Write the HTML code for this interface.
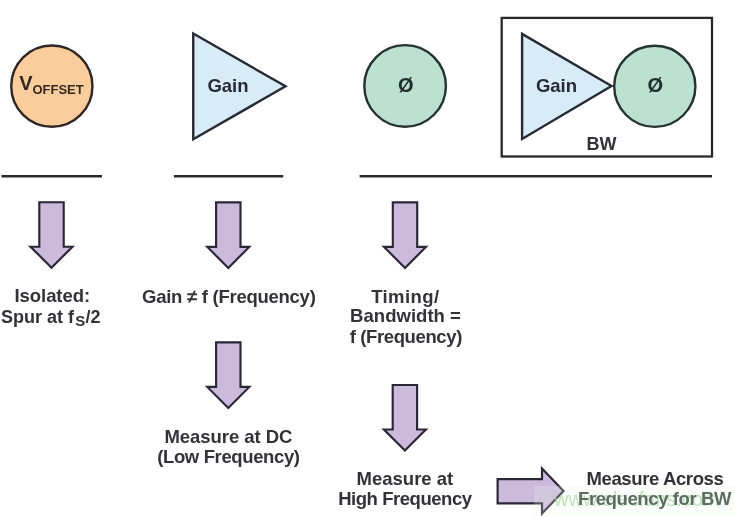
<!DOCTYPE html>
<html><head><meta charset="utf-8">
<style>
html,body{margin:0;padding:0;background:#fff;}
svg{display:block;will-change:transform;}
text{font-family:"Liberation Sans",sans-serif;font-weight:bold;fill:#323238;font-size:18px;}
</style></head><body>
<svg width="735" height="516" viewBox="0 0 735 516">
<!-- top row -->
<circle cx="51.85" cy="86.15" r="40.6" fill="#fccd9c" stroke="#2e2724" stroke-width="2.4"/>
<text x="19.2" y="89.8" style="font-size:20px;fill:#33291f">V</text><text x="32.4" y="94" style="font-size:13px;fill:#33291f">OFFSET</text>
<path d="M193.25,33.5 L193.25,139.3 L285.5,86.3 Z" fill="#d7ebf8" stroke="#262a32" stroke-width="2.4" stroke-linejoin="miter" stroke-miterlimit="10"/>
<text x="228" y="91.6" text-anchor="middle" style="fill:#252a33;font-size:18.5px">Gain</text>
<circle cx="405.1" cy="85.9" r="40.8" fill="#bce1d2" stroke="#243230" stroke-width="2.4"/>
<text x="405.8" y="91.8" text-anchor="middle" style="fill:#1f2f2c;font-size:20px">Ø</text>
<rect x="501.7" y="17.9" width="210.3" height="138.6" fill="none" stroke="#2a2a2e" stroke-width="2.3"/>
<path d="M522.1,33.9 L522.1,139 L611.5,86 Z" fill="#d7ebf8" stroke="#262a32" stroke-width="2.4" stroke-linejoin="miter" stroke-miterlimit="10"/>
<circle cx="654.8" cy="86.3" r="40.6" fill="#bce1d2" stroke="#243230" stroke-width="2.4"/>
<text x="556.5" y="91.6" text-anchor="middle" style="fill:#252a33;font-size:18.5px">Gain</text>
<text x="655.4" y="91.8" text-anchor="middle" style="fill:#1f2f2c;font-size:20px">Ø</text>
<text x="601.5" y="150.4" text-anchor="middle">BW</text>
<!-- lines -->
<path d="M1.5,176.3 H102 M173.9,176.3 H283.3 M359.6,176.3 H712" stroke="#2a2a2e" stroke-width="2.5"/>
<!-- arrows -->
<path transform="translate(51.5,202.2)" d="M-12.2,0 H12.2 V44.5 H21 L0,65.5 L-21,44.5 H-12.2 Z" fill="#ccbadd" stroke="#2b2636" stroke-width="2.15" stroke-linejoin="miter" stroke-miterlimit="10"/>
<path transform="translate(228.3,202.4)" d="M-12.2,0 H12.2 V44.5 H21 L0,65.5 L-21,44.5 H-12.2 Z" fill="#ccbadd" stroke="#2b2636" stroke-width="2.15" stroke-linejoin="miter" stroke-miterlimit="10"/>
<path transform="translate(405,202.4)" d="M-12.2,0 H12.2 V44.5 H21 L0,65.5 L-21,44.5 H-12.2 Z" fill="#ccbadd" stroke="#2b2636" stroke-width="2.15" stroke-linejoin="miter" stroke-miterlimit="10"/>
<path transform="translate(228.3,342.4)" d="M-12.2,0 H12.2 V44.5 H21 L0,65.5 L-21,44.5 H-12.2 Z" fill="#ccbadd" stroke="#2b2636" stroke-width="2.15" stroke-linejoin="miter" stroke-miterlimit="10"/>
<path transform="translate(404.9,385)" d="M-12.2,0 H12.2 V44.5 H21 L0,65.5 L-21,44.5 H-12.2 Z" fill="#ccbadd" stroke="#2b2636" stroke-width="2.15" stroke-linejoin="miter" stroke-miterlimit="10"/>
<path d="M497.6,479.1 H542 V468.5 L563.5,491.1 L542,513.5 V503.4 H497.6 Z" fill="#ccbadd" stroke="#2b2636" stroke-width="2.15" stroke-miterlimit="10"/>
<!-- texts -->
<text x="14.5" y="302.4" style="font-size:18.5px;letter-spacing:-0.06px">Isolated:</text>
<text x="1" y="322.8">Spur at f<tspan style="font-size:15px" dx="1.2" dy="3.2">S</tspan><tspan dx="0.3" dy="-3.2">/2</tspan></text>
<text x="142" y="302.6" style="font-size:18.5px;letter-spacing:-0.26px">Gain ≠ f (Frequency)</text>
<text x="371.2" y="302.6" style="font-size:18.5px;letter-spacing:0.4px">Timing/</text>
<text x="350.1" y="322.4" style="font-size:18.5px;letter-spacing:0.03px">Bandwidth =</text>
<text x="349.7" y="342.8" style="font-size:18.5px;letter-spacing:-0.38px">f (Frequency)</text>
<text x="164.5" y="442.7" style="font-size:18.5px;letter-spacing:-0.06px">Measure at DC</text>
<text x="157.2" y="462.8" style="font-size:18.5px;letter-spacing:-0.37px">(Low Frequency)</text>
<text x="356.6" y="484.9" style="font-size:18.5px;letter-spacing:0.0px">Measure at</text>
<text x="338.2" y="505" style="font-size:18.5px;letter-spacing:-0.46px">High Frequency</text>
<text x="586.5" y="484.7" style="font-size:18.5px;letter-spacing:-0.38px">Measure Across</text>
<text x="554" y="506" style="font-weight:normal;font-size:20px;fill:#8fd08a;fill-opacity:0.7">www.elecfans.com</text>
<text x="578" y="504.8" style="font-size:18.5px;letter-spacing:-0.39px;fill:#36443a">Frequency for BW</text>
<!-- watermark -->
<rect x="534" y="486" width="201" height="30" fill="#e6f4e6" fill-opacity="0.22"/>
</svg>
</body></html>
